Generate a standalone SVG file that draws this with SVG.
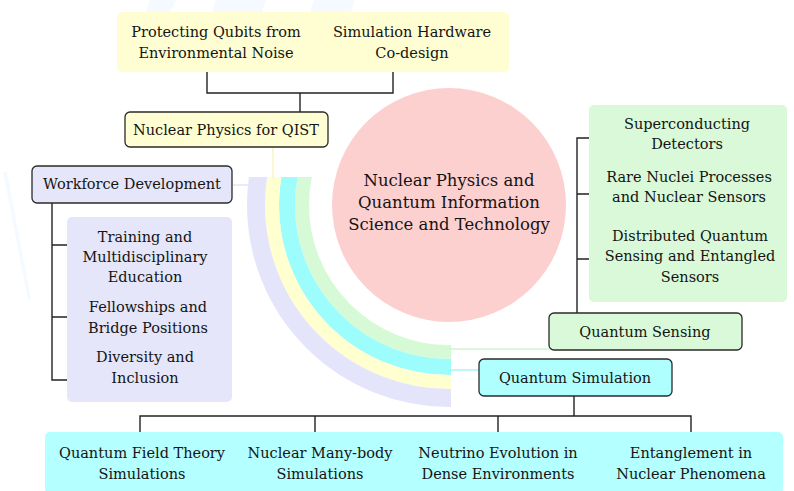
<svg xmlns="http://www.w3.org/2000/svg" width="794" height="491" viewBox="0 0 794 491">
<defs>
<style>
text{font-family:"DejaVu Serif","Liberation Serif",serif;fill:#141414;text-anchor:middle}
.t{font-size:14.5px}
.c{font-size:16.5px}
.box{stroke:#2a2a2a;stroke-width:1.3}
.ln{fill:none;stroke:#222;stroke-width:1.4}
.bg{fill:#f4faff}
</style>
<clipPath id="bandclip"><rect x="0" y="177" width="451" height="314"/></clipPath>
</defs>
<rect width="794" height="491" fill="#ffffff"/>
<g id="background">
<polygon class="bg" points="150,0 176,0 170,12 146,12"/>
<polygon class="bg" points="216,0 266,0 262,12 212,12"/>
<polygon class="bg" points="314,0 355,0 351,12 310,12"/>
<polygon class="bg" points="3,172 7,172 31,300 28,300"/>
</g>
<g id="bands" clip-path="url(#bandclip)" fill="none">
<circle cx="449" cy="205" r="147" stroke="#d6f9d6" stroke-width="14"/>
<circle cx="449" cy="205" r="162" stroke="#9dfcfc" stroke-width="16"/>
<circle cx="449" cy="205" r="177" stroke="#ffffcf" stroke-width="14"/>
<circle cx="449" cy="205" r="193" stroke="#e4e4fb" stroke-width="18"/>
</g>
<g id="connectors">
<path class="ln" d="M207,67 V93 H393 V67 M300,93 V112"/>
<path class="ln" d="M52,203 V380 H80 M52,245 H80 M52,317 H80"/>
<path class="ln" d="M577,313 V138 H597 M577,194 H597 M577,259 H597"/>
<path class="ln" d="M574,396 V416 M140,432 V416 H691 V432 M315,416 V432 M498,416 V432"/>
<line x1="273" y1="147" x2="273" y2="178" stroke="#f5f0a0" stroke-width="1"/>
<line x1="233" y1="185" x2="248" y2="185" stroke="#d4d4f4" stroke-width="1"/>
<line x1="450" y1="349" x2="549" y2="349" stroke="#b8f0b8" stroke-width="1"/>
<line x1="450" y1="370" x2="479" y2="370" stroke="#7ff0f0" stroke-width="1"/>
</g>
<g id="center">
<circle cx="449" cy="205" r="117" fill="#fdd0d0"/>
<text class="c" x="449" y="186">Nuclear Physics and</text>
<text class="c" x="449" y="208">Quantum Information</text>
<text class="c" x="449" y="230">Science and Technology</text>
</g>
<g id="qist-topics">
<rect x="117" y="12" width="392" height="60" rx="5" fill="#fefed2"/>
<text class="t" x="216" y="37">Protecting Qubits from</text>
<text class="t" x="216" y="58">Environmental Noise</text>
<text class="t" x="412" y="37">Simulation Hardware</text>
<text class="t" x="412" y="58">Co-design</text>
</g>
<g id="qist">
<rect class="box" x="125" y="112" width="203" height="35" rx="5" fill="#fefed2"/>
<text class="t" x="226" y="135">Nuclear Physics for QIST</text>
</g>
<g id="workforce">
<rect class="box" x="32" y="166" width="200" height="37" rx="5" fill="#e6e6fa"/>
<text class="t" x="132" y="189">Workforce Development</text>
</g>
<g id="workforce-topics">
<rect x="67" y="217" width="165" height="185" rx="5" fill="#e6e6fa"/>
<text class="t" x="145" y="242">Training and</text>
<text class="t" x="145" y="262">Multidisciplinary</text>
<text class="t" x="145" y="282">Education</text>
<text class="t" x="148" y="312">Fellowships and</text>
<text class="t" x="148" y="333">Bridge Positions</text>
<text class="t" x="145" y="362">Diversity and</text>
<text class="t" x="145" y="383">Inclusion</text>
</g>
<g id="sensing-topics">
<rect x="589" y="105" width="198" height="197" rx="5" fill="#d9f9d9"/>
<text class="t" x="687" y="129">Superconducting</text>
<text class="t" x="687" y="149">Detectors</text>
<text class="t" x="689" y="182">Rare Nuclei Processes</text>
<text class="t" x="689" y="202">and Nuclear Sensors</text>
<text class="t" x="690" y="241">Distributed Quantum</text>
<text class="t" x="690" y="261">Sensing and Entangled</text>
<text class="t" x="690" y="282">Sensors</text>
</g>
<g id="sensing">
<rect class="box" x="549" y="313" width="193" height="37" rx="5" fill="#d9f9d9"/>
<text class="t" x="645" y="337">Quantum Sensing</text>
</g>
<g id="simulation">
<rect class="box" x="479" y="359" width="193" height="37" rx="5" fill="#b0ffff"/>
<text class="t" x="575" y="383">Quantum Simulation</text>
</g>
<g id="simulation-topics">
<rect x="45" y="432" width="738" height="62" rx="5" fill="#b4ffff"/>
<text class="t" x="142" y="458">Quantum Field Theory</text>
<text class="t" x="142" y="479">Simulations</text>
<text class="t" x="320" y="458">Nuclear Many-body</text>
<text class="t" x="320" y="479">Simulations</text>
<text class="t" x="498" y="458">Neutrino Evolution in</text>
<text class="t" x="498" y="479">Dense Environments</text>
<text class="t" x="691" y="458">Entanglement in</text>
<text class="t" x="691" y="479">Nuclear Phenomena</text>
</g>
</svg>
